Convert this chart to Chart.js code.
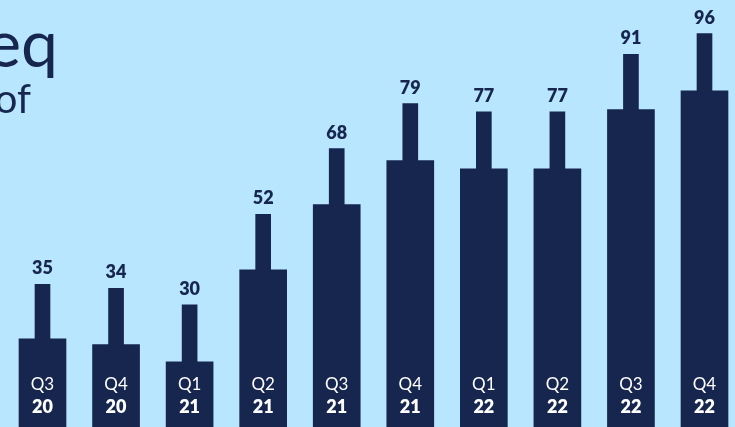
<!DOCTYPE html>
<html>
<head>
<meta charset="utf-8">
<script src="https://cdn.jsdelivr.net/npm/chart.js@4"></script>
<style>
  html, body { margin: 0; padding: 0; background: #b8e6fe; overflow: hidden; }
  #wrap { width: 735px; height: 429px; position: relative; }
</style>
</head>
<body>
<div id="wrap"><canvas id="c" width="735" height="429"></canvas></div>
<script>
const quarters = ["Q3", "Q4", "Q1", "Q2", "Q3", "Q4", "Q1", "Q2", "Q3", "Q4"];
const years    = ["20", "20", "21", "21", "21", "21", "22", "22", "22", "22"];
const totals   = [35, 34, 30, 52, 68, 79, 77, 77, 91, 96];
const baseVals = [21.7, 20.3, 16.1, 38.5, 54.4, 65.1, 63.1, 63.1, 77.5, 82.1];
const titleLines = ["eq", "of"];

const NAVY = "#17264f";
const BG = "#b8e6fe";
const FONT = "Lato, 'Open Sans', sans-serif";

const labelPlugin = {
  id: "labels",
  beforeDraw(chart) {
    const ctx = chart.ctx;
    ctx.save();
    ctx.fillStyle = BG;
    ctx.fillRect(0, 0, chart.width, chart.height);
    ctx.fillStyle = NAVY;
    ctx.textAlign = "right";
    ctx.textBaseline = "alphabetic";
    ctx.font = "400 66px " + FONT;
    ctx.fillText(titleLines[0], 58, 67);
    ctx.font = "400 40px " + FONT;
    ctx.fillText(titleLines[1], 31, 113);
    ctx.restore();
  },
  afterDatasetsDraw(chart) {
    const ctx = chart.ctx;
    const stems = chart.getDatasetMeta(1).data;
    const bottom = chart.scales.y.getPixelForValue(0);
    ctx.save();
    ctx.textAlign = "center";
    ctx.textBaseline = "alphabetic";
    stems.forEach((el, i) => {
      ctx.fillStyle = NAVY;
      ctx.font = "800 18px " + FONT;
      ctx.fillText(String(totals[i]), el.x, el.y - 10);
      ctx.fillStyle = "#ffffff";
      ctx.font = "400 17px " + FONT;
      ctx.fillText(quarters[i], el.x, bottom - 38);
      ctx.font = "800 18px " + FONT;
      ctx.fillText(years[i], el.x, bottom - 15);
    });
    ctx.restore();
  }
};

new Chart(document.getElementById("c"), {
  type: "bar",
  data: {
    labels: quarters.map((q, i) => q + " " + years[i]),
    datasets: [
      { data: baseVals, backgroundColor: NAVY, barThickness: 47, grouped: false, clip: false, order: 2 },
      { data: totals, backgroundColor: NAVY, barThickness: 15, grouped: false, clip: false, order: 1 }
    ]
  },
  options: {
    responsive: false,
    animation: false,
    layout: { padding: { left: 42.5, right: 30.5, top: 0, bottom: 1 } },
    plugins: { legend: { display: false }, tooltip: { enabled: false } },
    scales: {
      x: { display: false, offset: false, grid: { display: false } },
      y: { display: false, min: 0, max: 104.2, grid: { display: false } }
    }
  },
  plugins: [labelPlugin]
});
</script>
</body>
</html>
